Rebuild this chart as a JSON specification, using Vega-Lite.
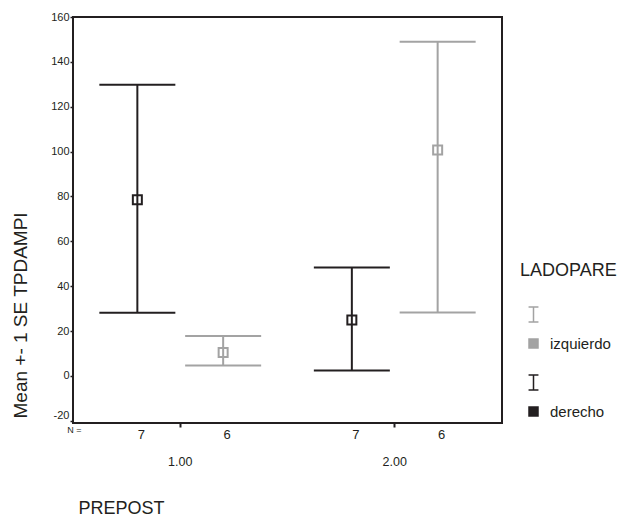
{
  "$schema": "https://vega.github.io/schema/vega-lite/v6.json",
  "width": 429,
  "height": 406,
  "autosize": {"type": "none"},
  "padding": {"left": 73, "top": 17, "right": 118, "bottom": 94},
  "background": "white",
  "config": {
    "font": "Liberation Sans",
    "view": {"stroke": "#231f20", "strokeWidth": 2},
    "axis": {"domain": false, "grid": false}
  },
  "datasets": {
    "stats": [
      {"PREPOST": "1.00", "LADOPARE": "derecho", "mean": 78.5, "lo": 28.1, "hi": 129.8, "N": 7},
      {"PREPOST": "1.00", "LADOPARE": "izquierdo", "mean": 10.4, "lo": 4.6, "hi": 17.8, "N": 6},
      {"PREPOST": "2.00", "LADOPARE": "derecho", "mean": 24.9, "lo": 2.4, "hi": 48.3, "N": 7},
      {"PREPOST": "2.00", "LADOPARE": "izquierdo", "mean": 100.7, "lo": 28.3, "hi": 149.0, "N": 6}
    ],
    "nlabel": [
      {"PREPOST": "1.00", "LADOPARE": "derecho", "t": "N ="}
    ]
  },
  "encoding": {
    "x": {
      "field": "PREPOST",
      "type": "nominal",
      "scale": {"paddingInner": 0, "paddingOuter": 0},
      "axis": {
        "labelAngle": 0,
        "labelFontSize": 12.5,
        "labelColor": "#231f20",
        "labelPadding": 28,
        "tickSize": 4,
        "tickWidth": 2,
        "tickColor": "#231f20",
        "title": "PREPOST",
        "titleFontSize": 18,
        "titleFontWeight": "normal",
        "titleColor": "#231f20",
        "titleAnchor": "start",
        "titleAlign": "left",
        "titleBaseline": "middle",
        "titleX": 5,
        "titleY": 85
      }
    },
    "xOffset": {
      "field": "LADOPARE",
      "type": "nominal",
      "sort": ["derecho", "izquierdo"],
      "scale": {"paddingInner": 0, "paddingOuter": 0.25}
    }
  },
  "layer": [
    {
      "data": {"name": "stats"},
      "mark": {"type": "rule", "strokeWidth": 2},
      "encoding": {
        "y": {
          "field": "lo",
          "type": "quantitative",
          "scale": {"domain": [-21, 160], "nice": false, "zero": false},
          "axis": {
            "values": [-20, 0, 20, 40, 60, 80, 100, 120, 140, 160],
            "labelExpr": "'' + datum.value",
            "labelFontSize": 11,
            "labelColor": "#231f20",
            "labelPadding": 1,
            "labelBaseline": {"expr": "datum.value === -20 ? 'bottom' : 'middle'"},
            "tickSize": 3,
            "tickWidth": 1.5,
            "tickColor": "#231f20",
            "title": "Mean +- 1 SE TPDAMPI",
            "titleFontSize": 19,
            "titleFontWeight": "normal",
            "titleColor": "#231f20",
            "titleAngle": -90,
            "titleAlign": "left",
            "titleBaseline": "middle",
            "titleX": -53,
            "titleY": 401
          }
        },
        "y2": {"field": "hi"},
        "color": {
          "field": "LADOPARE",
          "type": "nominal",
          "scale": {"domain": ["izquierdo", "derecho"], "range": ["#a3a3a3", "#231f20"]},
          "legend": {
            "title": "LADOPARE",
            "orient": "none",
            "legendX": 447,
            "legendY": 245,
            "padding": 0,
            "titleFontSize": 18,
            "titleFontWeight": "normal",
            "titleColor": "#231f20",
            "titlePadding": 56,
            "labelFontSize": 15,
            "labelColor": "#231f20",
            "labelOffset": 9,
            "symbolOffset": 6,
            "symbolType": "M-1.1,-8.1 H1.1 M0,-8.1 V-4.8 M-1.1,-4.8 H1.1 M-1,-1 H1 V1 H-1 Z",
            "symbolSize": 81,
            "symbolStrokeWidth": 1.5,
            "rowPadding": 20,
            "encode": {
              "symbols": {
                "update": {
                  "fill": {"scale": "color", "field": "value"},
                  "stroke": {"scale": "color", "field": "value"},
                  "opacity": {"value": 1},
                  "fillOpacity": {"value": 1},
                  "strokeWidth": {"value": 1.5}
                }
              }
            }
          }
        }
      }
    },
    {
      "data": {"name": "stats"},
      "mark": {"type": "tick", "thickness": 2, "size": 76, "opacity": 1},
      "encoding": {
        "y": {"field": "lo", "type": "quantitative"},
        "color": {"field": "LADOPARE", "type": "nominal"}
      }
    },
    {
      "data": {"name": "stats"},
      "mark": {"type": "tick", "thickness": 2, "size": 76, "opacity": 1},
      "encoding": {
        "y": {"field": "hi", "type": "quantitative"},
        "color": {"field": "LADOPARE", "type": "nominal"}
      }
    },
    {
      "data": {"name": "stats"},
      "mark": {"type": "point", "shape": "square", "size": 81, "filled": false, "strokeWidth": 2, "opacity": 1},
      "encoding": {
        "y": {"field": "mean", "type": "quantitative"},
        "color": {"field": "LADOPARE", "type": "nominal"}
      }
    },
    {
      "data": {"name": "stats"},
      "mark": {"type": "text", "fontSize": 13, "color": "#231f20", "dx": 4, "baseline": "middle"},
      "encoding": {
        "y": {"datum": -26.5},
        "text": {"field": "N", "type": "nominal"}
      }
    },
    {
      "data": {"name": "nlabel"},
      "mark": {"type": "text", "fontSize": 9, "color": "#231f20", "dx": -63, "baseline": "middle"},
      "encoding": {
        "y": {"datum": -24},
        "text": {"field": "t", "type": "nominal"}
      }
    }
  ]
}
